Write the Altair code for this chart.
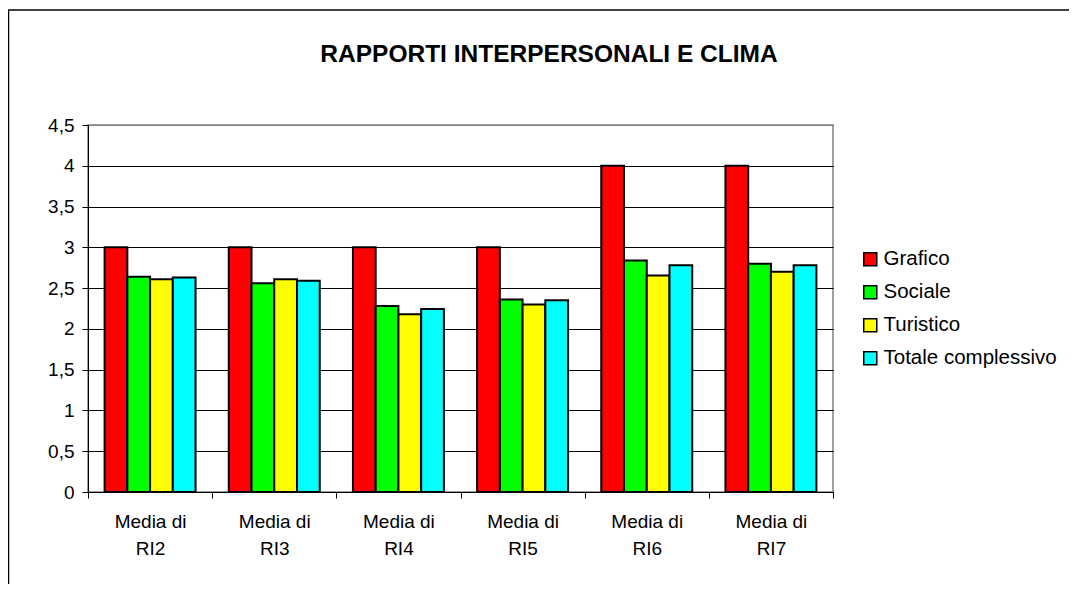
import altair as alt
import pandas as pd

categories = ["Media di RI2", "Media di RI3", "Media di RI4", "Media di RI5", "Media di RI6", "Media di RI7"]
series = ["Grafico", "Sociale", "Turistico", "Totale complessivo"]
grafico = [3.0, 3.0, 3.0, 3.0, 4.0, 4.0]
sociale = [2.64, 2.56, 2.28, 2.36, 2.84, 2.80]
turistico = [2.61, 2.61, 2.18, 2.30, 2.655, 2.70]
totale = [2.63, 2.59, 2.245, 2.35, 2.78, 2.78]
colors = ["#FF0000", "#00FF00", "#FFFF00", "#00FFFF"]
y_ticks = [0, 0.5, 1, 1.5, 2, 2.5, 3, 3.5, 4, 4.5]
title_text = "RAPPORTI INTERPERSONALI E CLIMA"

rows = []
for s, vals in zip(series, [grafico, sociale, turistico, totale]):
    for c, v in zip(categories, vals):
        rows.append({"cat": c, "serie": s, "val": v})
df = pd.DataFrame(rows)

FONT = "Liberation Sans"

bars = alt.Chart(df).mark_bar(stroke="black", strokeWidth=2).encode(
    x=alt.X("cat:N", sort=categories, title=None,
            scale=alt.Scale(paddingInner=0, paddingOuter=0),
            axis=alt.Axis(labelAngle=0, tickBand="extent", grid=False,
                          domainColor="black", domainWidth=1,
                          tickColor="black", tickSize=6,
                          labelFontSize=19, labelFont=FONT, labelColor="black",
                          labelPadding=14, labelLineHeight=27,
                          labelExpr="length(datum.label) > 9 ? ['Media di', substring(datum.label, 9)] : ''")),
    xOffset=alt.XOffset("serie:N", sort=series,
                        scale=alt.Scale(paddingInner=0, paddingOuter=0.73)),
    y=alt.Y("val:Q", title=None,
            scale=alt.Scale(domain=[0, 4.5], nice=False),
            axis=alt.Axis(values=y_ticks, grid=True,
                          gridColor=alt.condition("datum.value >= 4.5", alt.value("#808080"), alt.value("black")),
                          gridWidth=1,
                          domainColor="black", domainWidth=1,
                          tickColor="black", tickSize=6,
                          labelFontSize=19, labelFont=FONT, labelColor="black",
                          labelPadding=8,
                          labelExpr="replace(toString(datum.value), '.', ',')")),
    color=alt.Color("serie:N", sort=series,
                    scale=alt.Scale(domain=series, range=colors),
                    legend=alt.Legend(title=None, orient="none", legendX=772, legendY=124,
                                      symbolType="square", symbolSize=170,
                                      symbolStrokeColor="black", symbolStrokeWidth=1.5,
                                      symbolOpacity=1, labelLimit=0,
                                      labelFontSize=20.5, labelFont=FONT, labelColor="black",
                                      labelOffset=3, rowPadding=12)),
)

title = alt.Chart(alt.Data(values=[{"t": title_text}])).mark_text(
    font=FONT, fontSize=24.5, fontWeight="bold", color="black",
    align="center", baseline="alphabetic"
).encode(text="t:N", x=alt.value(461), y=alt.value(-63))

border = alt.Chart(alt.Data(values=[{}])).mark_rect(
    filled=False, stroke="black", strokeWidth=1.5
).encode(
    x=alt.value(-79.5), x2=alt.value(1100),
    y=alt.value(-115), y2=alt.value(600),
)

chart = alt.layer(bars, title, border).properties(
    width=745, height=367,
    padding={"left": 80, "top": 117, "right": 236, "bottom": 92},
    autosize=alt.AutoSizeParams(type="none"),
).configure_view(stroke="#808080", strokeWidth=1.5)

chart.save("out.html", embed_options={"renderer": "svg", "actions": False})
